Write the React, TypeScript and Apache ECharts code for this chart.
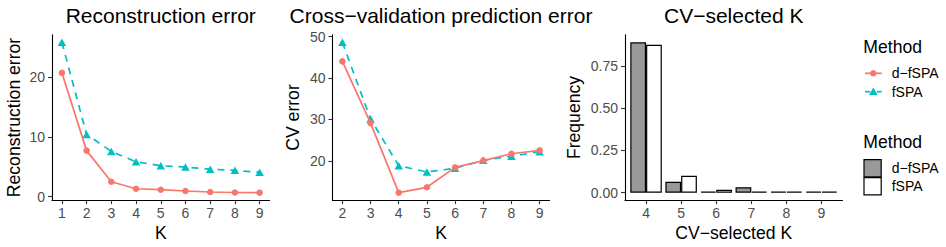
import React, { useEffect, useRef } from "react";
import * as echarts from "echarts";

// ---- data ----
const reconK = [1, 2, 3, 4, 5, 6, 7, 8, 9];
const reconD = [20.7, 7.7, 2.5, 1.33, 1.17, 0.95, 0.78, 0.7, 0.67];
const reconF = [25.8, 10.4, 7.57, 5.83, 5.17, 4.95, 4.6, 4.4, 4.07];

const cvK = [2, 3, 4, 5, 6, 7, 8, 9];
const cvD = [44.0, 29.1, 12.3, 13.6, 18.4, 20.05, 21.7, 22.5];
const cvF = [48.6, 30.1, 18.8, 17.3, 18.2, 20.1, 21.1, 22.2];

const selK = [4, 5, 6, 7, 8, 9];
const freqD = [0.889, 0.065, 0.007, 0.032, 0, 0];
const freqF = [0.875, 0.1, 0.017, 0.002, 0, 0];

const recTicksY = [0, 10, 20];
const cvTicksY = [20, 30, 40, 50];
const freqTicksY = [0, 0.25, 0.5, 0.75];

const titles = ["Reconstruction error", "Cross\u2212validation prediction error", "CV\u2212selected K"];
const xTitles = ["K", "K", "CV\u2212selected K"];
const yTitles = ["Reconstruction error", "CV error", "Frequency"];
const methods = ["d\u2212fSPA", "fSPA"];

const RED = "#F8766D";
const CYAN = "#00BFC4";
const FONT = "Liberation Sans, Arial, Helvetica, sans-serif";

function expand(vals: number[], f = 0.05) {
  const mn = Math.min(...vals);
  const mx = Math.max(...vals);
  const r = mx - mn;
  return [mn - r * f, mx + r * f];
}

export default function App() {
  const ref = useRef<HTMLDivElement>(null);
  useEffect(() => {
    if (!ref.current) return;
    const chart = echarts.init(ref.current, null, { renderer: "svg" });

    const top = 34.8;
    const height = 165.4;
    const grids = [
      { left: 52, top, width: 217.5, height },
      { left: 332.5, top, width: 217, height },
      { left: 625, top, width: 217.5, height },
    ];
    const centers = grids.map((g) => g.left + g.width / 2);
    const midY = top + height / 2;

    const axisBase = (extra: any) => ({
      type: "value",
      axisLine: { show: true, onZero: false, lineStyle: { color: "#000", width: 1.1 } },
      splitLine: { show: false },
      ...extra,
    });
    const tick = (vals: number[]) => ({
      show: true,
      length: 4,
      customValues: vals,
      lineStyle: { color: "#333", width: 1.1 },
    });
    const label = (vals: number[], fmt?: (v: number) => string, margin = 6) => ({
      show: true,
      customValues: vals,
      color: "#4D4D4D",
      fontSize: 14,
      fontFamily: FONT,
      margin,
      formatter: fmt ? fmt : (v: number) => String(v),
    });

    const rx = expand(reconK);
    const ry = expand([...reconD, ...reconF]);
    const cx = expand(cvK);
    const cy = expand([...cvD, ...cvF]);
    const fy = expand([0, ...freqD, ...freqF]);

    const xAxis = [
      axisBase({ gridIndex: 0, min: rx[0], max: rx[1], axisTick: tick(reconK), axisLabel: label(reconK) }),
      axisBase({ gridIndex: 1, min: cx[0], max: cx[1], axisTick: tick(cvK), axisLabel: label(cvK) }),
      axisBase({ gridIndex: 2, min: selK[0] - 0.6, max: selK[selK.length - 1] + 0.6, axisTick: tick(selK), axisLabel: label(selK) }),
    ];
    const yAxis = [
      axisBase({ gridIndex: 0, min: ry[0], max: ry[1], axisTick: tick(recTicksY), axisLabel: label(recTicksY, undefined, 7) }),
      axisBase({ gridIndex: 1, min: cy[0], max: cy[1], axisTick: tick(cvTicksY), axisLabel: label(cvTicksY, undefined, 7) }),
      axisBase({ gridIndex: 2, min: fy[0], max: fy[1], axisTick: tick(freqTicksY), axisLabel: label(freqTicksY, (v) => v.toFixed(2), 7) }),
    ];

    const lineD = (idx: number, ks: number[], vals: number[]) => ({
      type: "line",
      xAxisIndex: idx,
      yAxisIndex: idx,
      data: ks.map((k, i) => [k, vals[i]]),
      symbol: "circle",
      symbolSize: 6.5,
      showSymbol: true,
      itemStyle: { color: RED },
      lineStyle: { color: RED, width: 1.7 },
      z: 3,
    });
    const lineF = (idx: number, ks: number[], vals: number[]) => ({
      type: "line",
      xAxisIndex: idx,
      yAxisIndex: idx,
      data: ks.map((k, i) => [k, vals[i]]),
      symbol: "triangle",
      symbolSize: [8.5, 7.5],
      showSymbol: true,
      itemStyle: { color: CYAN },
      lineStyle: { color: CYAN, width: 1.7, type: [7, 6] },
      z: 2,
    });
    const bar = (vals: number[], fill: string) => ({
      type: "bar",
      xAxisIndex: 2,
      yAxisIndex: 2,
      data: selK.map((k, i) => [k, vals[i]]),
      barWidth: 15.75,
      barGap: "0%",
      barMinHeight: 1,
      itemStyle: { color: fill, borderColor: "#000", borderWidth: 1.2 },
    });

    const graphic: any[] = [];
    titles.forEach((t, i) => {
      graphic.push({
        type: "text",
        x: centers[i],
        y: 15,
        style: { text: t, fontSize: 21, fontFamily: FONT, fill: "#000", align: "center", verticalAlign: "middle" },
      });
      graphic.push({
        type: "text",
        x: centers[i],
        y: 232.7,
        style: { text: xTitles[i], fontSize: 17.6, fontFamily: FONT, fill: "#000", align: "center", verticalAlign: "middle" },
      });
    });
    const yTitleOff = [38.4, 39.5, 51.4];
    yTitles.forEach((t, i) => {
      graphic.push({
        type: "text",
        x: grids[i].left - yTitleOff[i],
        y: midY,
        rotation: Math.PI / 2,
        style: { text: t, fontSize: 17.6, fontFamily: FONT, fill: "#000", align: "center", verticalAlign: "middle" },
      });
    });

    // legend 1 (lines)
    const lx = 863.3;
    graphic.push({
      type: "text",
      x: lx,
      y: 46.5,
      style: { text: "Method", fontSize: 17.6, fontFamily: FONT, fill: "#000", align: "left", verticalAlign: "middle" },
    });
    const ly = [73.3, 91.7];
    graphic.push({ type: "line", shape: { x1: 865, y1: ly[0], x2: 881.7, y2: ly[0] }, style: { stroke: RED, lineWidth: 1.7 } });
    graphic.push({ type: "circle", shape: { cx: 873.3, cy: ly[0], r: 3.25 }, style: { fill: RED } });
    graphic.push({ type: "line", shape: { x1: 865, y1: ly[1], x2: 870, y2: ly[1] }, style: { stroke: CYAN, lineWidth: 1.7 } });
    graphic.push({ type: "line", shape: { x1: 876.7, y1: ly[1], x2: 881.7, y2: ly[1] }, style: { stroke: CYAN, lineWidth: 1.7 } });
    graphic.push({
      type: "polygon",
      shape: { points: [[873.3, ly[1] - 4.2], [877.6, ly[1] + 3.2], [869, ly[1] + 3.2]] },
      style: { fill: CYAN },
    });
    methods.forEach((m, i) => {
      graphic.push({
        type: "text",
        x: 891.7,
        y: ly[i],
        style: { text: m, fontSize: 14, fontFamily: FONT, fill: "#000", align: "left", verticalAlign: "middle" },
      });
    });

    // legend 2 (bars)
    graphic.push({
      type: "text",
      x: lx,
      y: 142,
      style: { text: "Method", fontSize: 17.6, fontFamily: FONT, fill: "#000", align: "left", verticalAlign: "middle" },
    });
    const by = [159.6, 177.6];
    const fills = ["#999999", "#FFFFFF"];
    by.forEach((y, i) => {
      graphic.push({
        type: "rect",
        shape: { x: 864, y, width: 17.2, height: 17.2 },
        style: { fill: fills[i], stroke: "#000", lineWidth: 1.2 },
      });
      graphic.push({
        type: "text",
        x: 891.7,
        y: y + 8.8,
        style: { text: methods[i], fontSize: 14, fontFamily: FONT, fill: "#000", align: "left", verticalAlign: "middle" },
      });
    });

    chart.setOption({
      animation: false,
      backgroundColor: "#fff",
      textStyle: { fontFamily: FONT },
      grid: grids,
      xAxis,
      yAxis,
      series: [
        lineF(0, reconK, reconF),
        lineD(0, reconK, reconD),
        lineF(1, cvK, cvF),
        lineD(1, cvK, cvD),
        bar(freqD, "#999999"),
        bar(freqF, "#FFFFFF"),
      ],
      graphic,
    });
    return () => chart.dispose();
  }, []);

  return (
    <div
      ref={ref}
      style={{ position: "fixed", left: 0, top: 0, width: 946, height: 247, background: "#fff" }}
    />
  );
}
